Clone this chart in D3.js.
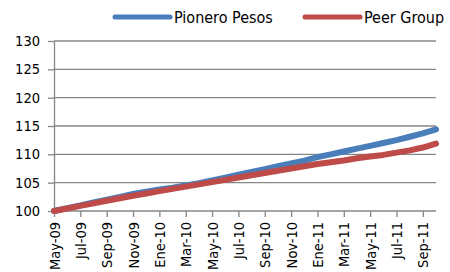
<!DOCTYPE html>
<html>
<head>
<meta charset="utf-8">
<script src="https://cdn.jsdelivr.net/npm/d3@7"></script>
<style>
    body { margin: 0; background: #fff; }
    svg text { font-family: "DejaVu Sans Condensed", "DejaVu Sans", sans-serif; fill: #000; }
</style>
</head>
<body>
<script>
const months = ["May-09", "Jun-09", "Jul-09", "Ago-09", "Sep-09", "Oct-09", "Nov-09", "Dic-09",
    "Ene-10", "Feb-10", "Mar-10", "Abr-10", "May-10", "Jun-10", "Jul-10", "Ago-10", "Sep-10", "Oct-10",
    "Nov-10", "Dic-10", "Ene-11", "Feb-11", "Mar-11", "Abr-11", "May-11", "Jun-11", "Jul-11", "Ago-11",
    "Sep-11", "Oct-11"];
const pionero = [100.0, 100.5, 101.0, 101.5, 102.0, 102.5, 103.0, 103.4, 103.8, 104.1, 104.5, 104.9,
    105.4, 105.9, 106.4, 106.9, 107.4, 107.9, 108.4, 108.9, 109.5, 110.0, 110.5, 111.0, 111.5, 112.0,
    112.5, 113.1, 113.7, 114.4];
const peer = [100.0, 100.45, 100.9, 101.35, 101.8, 102.25, 102.7, 103.1, 103.5, 103.9, 104.3, 104.7,
    105.1, 105.5, 105.9, 106.3, 106.7, 107.1, 107.5, 107.9, 108.3, 108.6, 108.9, 109.3, 109.6, 109.9,
    110.3, 110.7, 111.2, 111.9];
const yTicks = [100, 105, 110, 115, 120, 125, 130];
const seriesNames = ["Pionero Pesos", "Peer Group"];
const colors = ["#4a7ebb", "#be4b48"];

const width = 450, height = 272;
const plotLeft = 54, plotRight = 436, plotTop = 41, plotBottom = 211;

const svg = d3.select("body").append("svg")
    .attr("width", width)
    .attr("height", height);

const x = d3.scaleLinear().domain([0, months.length - 1]).range([plotLeft, plotRight]);
const y = d3.scaleLinear().domain([100, 130]).range([plotBottom, plotTop]);

// gridlines
svg.append("g").selectAll("line")
    .data(yTicks)
    .enter().append("line")
    .attr("x1", plotLeft).attr("x2", plotRight)
    .attr("y1", d => y(d)).attr("y2", d => y(d))
    .attr("stroke", "#868686").attr("stroke-width", 1.3);

const yAxis = d3.axisLeft(y).tickValues(yTicks).tickSize(6).tickSizeOuter(0);
const yg = svg.append("g")
    .attr("transform", `translate(${plotLeft},0)`)
    .call(yAxis);
yg.select(".domain").attr("stroke", "#868686").attr("stroke-width", 1.3);
yg.selectAll(".tick line").attr("stroke", "#868686").attr("stroke-width", 1.3);
yg.selectAll(".tick text").attr("x", -14).style("font-size", "14.5px");

const xTickIdx = d3.range(0, months.length, 2);
const xAxis = d3.axisBottom(x).tickValues(xTickIdx).tickFormat(i => months[i]).tickSize(6).tickSizeOuter(0);
const xg = svg.append("g")
    .attr("transform", `translate(0,${plotBottom})`)
    .call(xAxis);
xg.select(".domain").remove();
xg.selectAll(".tick line").attr("stroke", "#868686").attr("stroke-width", 1.3);
xg.selectAll(".tick text")
    .style("font-size", "14.5px")
    .attr("text-anchor", "end")
    .attr("transform", "translate(0,11) rotate(-90)")
    .attr("x", 0).attr("y", 0).attr("dy", "0.35em");

const line = d3.line().x((d, i) => x(i)).y(d => y(d));

[pionero, peer].forEach((s, k) => {
    svg.append("path")
        .datum(s)
        .attr("d", line)
        .attr("fill", "none")
        .attr("stroke", colors[k])
        .attr("stroke-width", 6)
        .attr("stroke-linecap", "round")
        .attr("stroke-linejoin", "round");
});

// legend
const legendX = [115, 305];
const lg = svg.append("g").selectAll("g")
    .data(seriesNames)
    .enter().append("g")
    .attr("transform", (d, i) => `translate(${legendX[i]},17)`);
lg.append("line")
    .attr("x1", 0).attr("x2", 55)
    .attr("stroke", (d, i) => colors[i])
    .attr("stroke-width", 5)
    .attr("stroke-linecap", "round");
lg.append("text")
    .attr("x", 59).attr("y", 6)
    .style("font-size", "16px")
    .text(d => d);
</script>
</body>
</html>
